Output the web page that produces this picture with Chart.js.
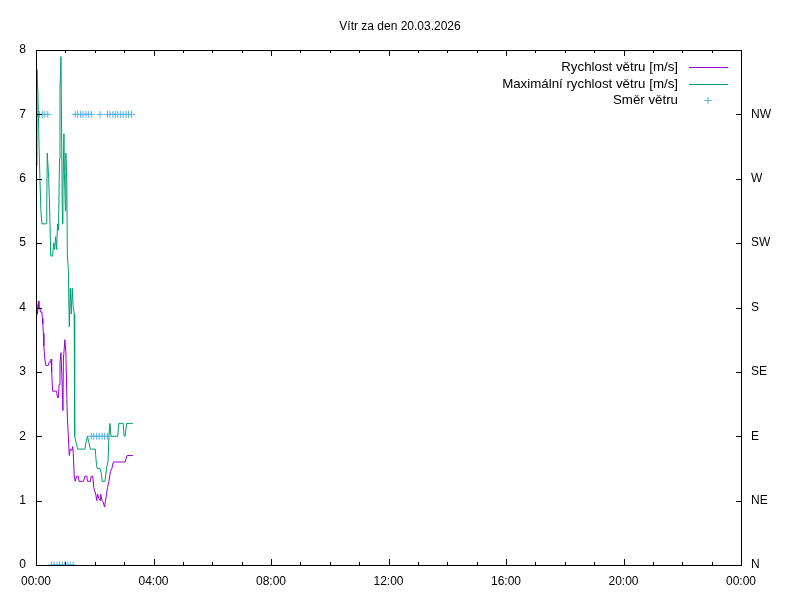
<!DOCTYPE html>
<html>
<head>
<meta charset="utf-8">
<script src="https://cdn.jsdelivr.net/npm/chart.js@4.4.0/dist/chart.umd.min.js"></script>
<style>
  html, body { margin: 0; padding: 0; background: #fff; }
  canvas { display: block; }
</style>
</head>
<body>
<canvas id="windChart" width="800" height="600"></canvas>
<script>
// time of day in minutes since 00:00
const speedTimes = [0, 1, 2, 3, 5, 6, 8, 9, 12, 13, 14, 15, 16, 18, 20, 25, 27, 30, 31, 32, 34, 42, 44, 46, 47, 49, 51, 53, 55, 56, 59, 61, 63, 64, 66, 68, 70, 73, 75, 76, 78, 80, 83, 86, 88, 97, 100, 104, 105, 111, 113, 116, 118, 122, 124, 126, 128, 131, 132, 135, 137, 140, 142, 144, 146, 149, 152, 155, 158, 182, 184, 186, 198];
const speedValues = [3.9, 3.85, 4.05, 3.9, 4.1, 4.0, 4.0, 3.93, 3.93, 3.83, 3.75, 3.6, 3.4, 3.2, 3.1, 3.1, 3.15, 3.15, 3.2, 3.0, 2.7, 2.7, 2.6, 2.6, 2.8, 3.15, 3.3, 2.9, 2.4, 3.2, 3.5, 3.3, 2.6, 2.3, 2.0, 1.7, 1.8, 1.78, 1.84, 1.75, 1.4, 1.3, 1.38, 1.38, 1.3, 1.3, 1.38, 1.38, 1.3, 1.3, 1.38, 1.38, 1.2, 1.1, 1.0, 1.1, 1.04, 1.0, 1.1, 1.0, 0.98, 0.9, 1.0, 1.1, 1.2, 1.3, 1.45, 1.5, 1.6, 1.6, 1.65, 1.7, 1.7];

const gustTimes = [0, 2, 4, 6, 8, 10, 12, 21, 22, 23, 26, 28, 30, 34, 36, 38, 40, 42, 44, 46, 48, 49, 51, 53, 54, 55, 57, 58, 60, 61, 63, 64, 66, 68, 70, 72, 74, 76, 78, 79, 82, 85, 100, 102, 105, 108, 111, 121, 123, 125, 131, 134, 135, 141, 144, 147, 149, 151, 153, 167, 169, 178, 180, 182, 185, 198];
const gustValues = [6.2, 7.7, 7.3, 6.6, 6.0, 5.5, 5.3, 5.3, 5.6, 6.4, 6.0, 5.5, 4.8, 4.8, 5.0, 4.9, 5.1, 4.9, 5.3, 5.2, 6.3, 7.4, 7.9, 6.1, 5.3, 5.8, 6.7, 6.1, 5.5, 6.4, 5.9, 4.8, 4.6, 3.7, 4.3, 3.9, 4.3, 4.0, 3.9, 2.0, 1.9, 1.8, 1.8, 1.9, 2.0, 1.9, 1.8, 1.8, 1.6, 1.5, 1.5, 1.4, 1.3, 1.3, 1.5, 1.6, 2.0, 2.2, 2.0, 2.0, 2.2, 2.2, 2.0, 2.0, 2.2, 2.2];

const dirTimes = [2, 7, 13, 18, 24, 32, 37, 43, 48, 54, 59, 65, 70, 76, 80, 85, 91, 96, 102, 107, 113, 113, 118, 124, 129, 135, 140, 146, 131, 146, 151, 157, 162, 167, 173, 178, 184, 189, 195];
const dirValues = ['NW', 'NW', 'NW', 'NW', 'NW', 'N', 'N', 'N', 'N', 'N', 'N', 'N', 'N', 'N', 'NW', 'NW', 'NW', 'NW', 'NW', 'NW', 'NW', 'E', 'E', 'E', 'E', 'E', 'E', 'E', 'NW', 'NW', 'NW', 'NW', 'NW', 'NW', 'NW', 'NW', 'NW', 'NW', 'NW'];

const dirNames = ['N', 'NE', 'E', 'SE', 'S', 'SW', 'W', 'NW'];
const seriesLabels = ['Rychlost větru [m/s]', 'Maximální rychlost větru [m/s]', 'Směr větru'];
const titleText = 'Vítr za den 20.03.2026';

const FONT = "'Liberation Sans', Arial, sans-serif";

function hhmm(min) {
    const h = Math.floor(min / 60) % 24;
    const m = Math.round(min % 60);
    return String(h).padStart(2, '0') + ':' + String(m).padStart(2, '0');
}

// gnuplot look: border, inward ticks, title, legend in the top right corner
const gnuplotFrame = {
    id: 'gnuplotFrame',
    afterDraw(chart) {
        const ctx = chart.ctx;
        const a = chart.chartArea;
        const xs = chart.scales.x, ys = chart.scales.y, y2 = chart.scales.y2;
        ctx.save();
        ctx.strokeStyle = '#000';
        ctx.lineWidth = 1;
        ctx.strokeRect(a.left + 0.5, a.top + 0.5, a.right - a.left, a.bottom - a.top);

        ctx.beginPath();
        for (let v = 0; v <= 8; v++) {
            const y = Math.round(ys.getPixelForValue(v)) + 0.5;
            ctx.moveTo(a.left, y); ctx.lineTo(a.left + 6, y);
        }
        for (let v = 0; v < dirNames.length; v++) {
            const y = Math.round(y2.getPixelForValue(v)) + 0.5;
            ctx.moveTo(a.right + 1, y); ctx.lineTo(a.right - 5, y);
        }
        for (let h = 0; h <= 24; h++) {
            const x = Math.round(xs.getPixelForValue(h * 60)) + 0.5;
            const len = h % 4 === 0 ? 6 : 3;
            ctx.moveTo(x, a.bottom); ctx.lineTo(x, a.bottom - len);
            ctx.moveTo(x, a.top); ctx.lineTo(x, a.top + len);
        }
        ctx.stroke();

        ctx.fillStyle = '#000';
        ctx.font = '12px ' + FONT;
        ctx.textBaseline = 'middle';
        ctx.textAlign = 'center';
        ctx.fillText(titleText, 400, 27);

        const rowY = [67, 84, 100];
        ctx.font = '13.3px ' + FONT;
        ctx.textAlign = 'right';
        chart.data.datasets.forEach((ds, i) => {
            const y = rowY[i];
            ctx.fillStyle = '#000';
            ctx.fillText(ds.label, 678, y);
            ctx.strokeStyle = ds.borderColor;
            ctx.beginPath();
            if (ds.showLine === false) {
                ctx.moveTo(704.5, y + 0.5); ctx.lineTo(711.5, y + 0.5);
                ctx.moveTo(708, y - 3); ctx.lineTo(708, y + 4);
            } else {
                ctx.moveTo(689, y + 0.5); ctx.lineTo(728, y + 0.5);
            }
            ctx.stroke();
        });
        ctx.restore();
    }
};

const ctx = document.getElementById('windChart').getContext('2d');
new Chart(ctx, {
    type: 'line',
    data: {
        datasets: [{
            label: seriesLabels[0],
            data: speedTimes.map((t, i) => ({ x: t, y: speedValues[i] })),
            borderColor: '#9400d3',
            borderWidth: 1,
            pointRadius: 0,
            tension: 0,
            yAxisID: 'y',
            order: 2
        }, {
            label: seriesLabels[1],
            data: gustTimes.map((t, i) => ({ x: t, y: gustValues[i] })),
            borderColor: '#009e73',
            borderWidth: 1,
            pointRadius: 0,
            tension: 0,
            yAxisID: 'y',
            order: 1
        }, {
            label: seriesLabels[2],
            data: dirTimes.map((t, i) => ({ x: t, y: dirNames.indexOf(dirValues[i]) })),
            borderColor: '#56b4e9',
            backgroundColor: '#56b4e9',
            showLine: false,
            pointStyle: 'cross',
            pointRadius: 3.5,
            pointBorderWidth: 1,
            yAxisID: 'y2',
            order: 0
        }]
    },
    options: {
        responsive: false,
        animation: false,
        devicePixelRatio: 1,
        layout: { padding: { top: 50, left: 0, right: 0, bottom: 0 } },
        plugins: {
            legend: { display: false },
            title: { display: false },
            tooltip: { enabled: false }
        },
        scales: {
            x: {
                type: 'linear',
                min: 0,
                max: 1440,
                grid: { display: false, drawTicks: false },
                border: { display: false },
                ticks: {
                    stepSize: 240,
                    padding: 9,
                    color: '#000',
                    font: { family: FONT, size: 12 },
                    maxRotation: 0,
                    callback: v => hhmm(v)
                },
                afterFit: s => { s.height = 35; }
            },
            y: {
                position: 'left',
                min: 0,
                max: 8,
                grid: { display: false, drawTicks: false },
                border: { display: false },
                ticks: {
                    stepSize: 1,
                    padding: 10,
                    color: '#000',
                    font: { family: FONT, size: 12 }
                },
                afterFit: s => { s.width = 36; }
            },
            y2: {
                position: 'right',
                min: 0,
                max: 8,
                grid: { display: false, drawTicks: false },
                border: { display: false },
                ticks: {
                    stepSize: 1,
                    padding: 10,
                    color: '#000',
                    font: { family: FONT, size: 12 },
                    callback: v => dirNames[v] || ''
                },
                afterFit: s => { s.width = 59; }
            }
        }
    },
    plugins: [gnuplotFrame]
});
</script>
</body>
</html>
